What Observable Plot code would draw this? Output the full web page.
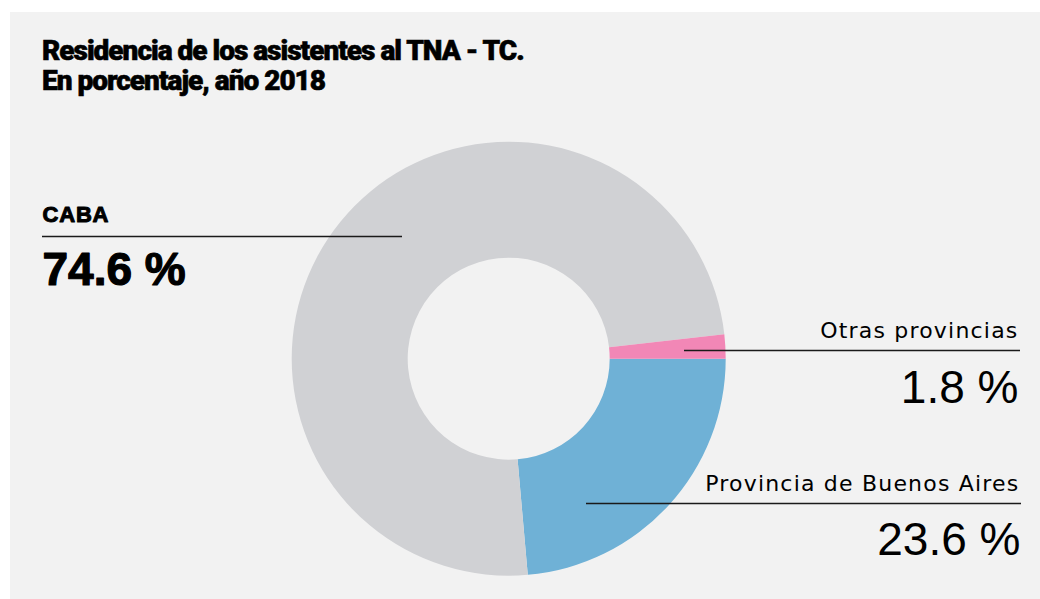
<!DOCTYPE html>
<html>
<head>
<meta charset="utf-8">
<script src="https://cdn.jsdelivr.net/npm/d3@7"></script>
<script src="https://cdn.jsdelivr.net/npm/@observablehq/plot@0.6"></script>
<style>
  html, body { margin: 0; padding: 0; background: #ffffff; }
  #panel { position: absolute; left: 10px; top: 12px; width: 1030px; height: 587px; background: #f2f2f2; overflow: hidden; }
  #title { position: absolute; left: 32px; top: 24px; margin: 0; font-family: "Roboto", "Liberation Sans", sans-serif; font-weight: 900; font-size: 28px; line-height: 30px; letter-spacing: -1px; color: #000; -webkit-text-stroke: 0.6px #000; }
  #chart { position: absolute; left: 0; top: 0; }
  #chart g[font-family^="DejaVu"] { letter-spacing: 1.2px; }
  #chart g[font-size="22"][font-weight="900"] { letter-spacing: 0.8px; }
</style>
</head>
<body>
<div id="panel">
  <div id="title">Residencia de los asistentes al TNA - TC.<br>En porcentaje, año 2018</div>
  <div id="chart"></div>
</div>
<script>
// ---- data ----
const categories = ["Provincia de Buenos Aires", "CABA", "Otras provincias"];
const values = [23.6, 74.6, 1.8];
const colors = ["#6fb1d6", "#d0d1d4", "#f287b6"];
const valueLabels = ["23.6 %", "74.6 %", "1.8 %"];

// ---- layout (pixel positions inside panel) ----
const W = 1030, H = 587;
const center = {x: 498.7, y: 346.7};
const outerR = 217, innerR = 101;
const leaders = [
  {x1: 576, x2: 1011, y: 491},
  {x1: 32, x2: 392, y: 224},
  {x1: 674, x2: 1010, y: 338}
];
const nameAnchors = [
  {x: 1009, y: 478, anchor: "end"},
  {x: 32, y: 209, anchor: "start"},
  {x: 1008, y: 325, anchor: "end"}
];
const valueAnchors = [
  {x: 1010, y: 542, anchor: "end"},
  {x: 32, y: 272, anchor: "start"},
  {x: 1008, y: 390, anchor: "end"}
];

const rows = categories.map((c, i) => ({
  category: c, value: values[i], label: valueLabels[i],
  lx1: leaders[i].x1, lx2: leaders[i].x2, ly: leaders[i].y,
  nx: nameAnchors[i].x, ny: nameAnchors[i].y, nAnchor: nameAnchors[i].anchor,
  vx: valueAnchors[i].x, vy: valueAnchors[i].y, vAnchor: valueAnchors[i].anchor
}));

const colorScale = Plot.scale({color: {type: "ordinal", domain: categories, range: colors}});

function donut(index, scales) {
  const cx = scales.x(center.x), cy = scales.y(center.y);
  const pie = d3.pie().sort(null).value(d => d.value).startAngle(Math.PI / 2).endAngle(Math.PI / 2 + 2 * Math.PI);
  const arc = d3.arc().innerRadius(innerR).outerRadius(outerR);
  const g = d3.create("svg:g").attr("transform", `translate(${cx},${cy})`);
  g.selectAll("path").data(pie(rows)).join("path")
    .attr("d", arc)
    .attr("fill", d => colorScale.apply(d.data.category));
  return g.node();
}

const isCABA = d => d.category === "CABA";

const chart = Plot.plot({
  width: W, height: H,
  margin: 0,
  style: {background: "transparent", overflow: "visible"},
  x: {domain: [0, W], range: [0, W], axis: null},
  y: {domain: [0, H], range: [0, H], axis: null},
  marks: [
    donut,
    Plot.ruleY(rows, {x1: "lx1", x2: "lx2", y: "ly", stroke: "#1a1a1a", strokeWidth: 1.3}),
    // CABA label (bold)
    Plot.text(rows.filter(isCABA), {x: "nx", y: "ny", text: "category", textAnchor: "start", lineAnchor: "bottom",
      fontFamily: "Liberation Sans", fontWeight: 900, fontSize: 22, fill: "#000", stroke: "#000", strokeWidth: 1}),
    Plot.text(rows.filter(isCABA), {x: "vx", y: "vy", text: "label", textAnchor: "start", lineAnchor: "bottom",
      fontFamily: "Liberation Sans", fontWeight: 700, fontSize: 46, fill: "#000", stroke: "#000", strokeWidth: 1.2}),
    // Other labels (regular)
    Plot.text(rows.filter(d => !isCABA(d)), {x: "nx", y: "ny", text: "category", textAnchor: "end", lineAnchor: "bottom",
      fontFamily: "DejaVu Sans", fontWeight: 400, fontSize: 22, fill: "#000"}),
    Plot.text(rows.filter(d => !isCABA(d)), {x: "vx", y: "vy", text: "label", textAnchor: "end", lineAnchor: "bottom",
      fontFamily: "Liberation Sans", fontWeight: 400, fontSize: 46, fill: "#000"})
  ]
});

document.getElementById("chart").appendChild(chart);
</script>
</body>
</html>
